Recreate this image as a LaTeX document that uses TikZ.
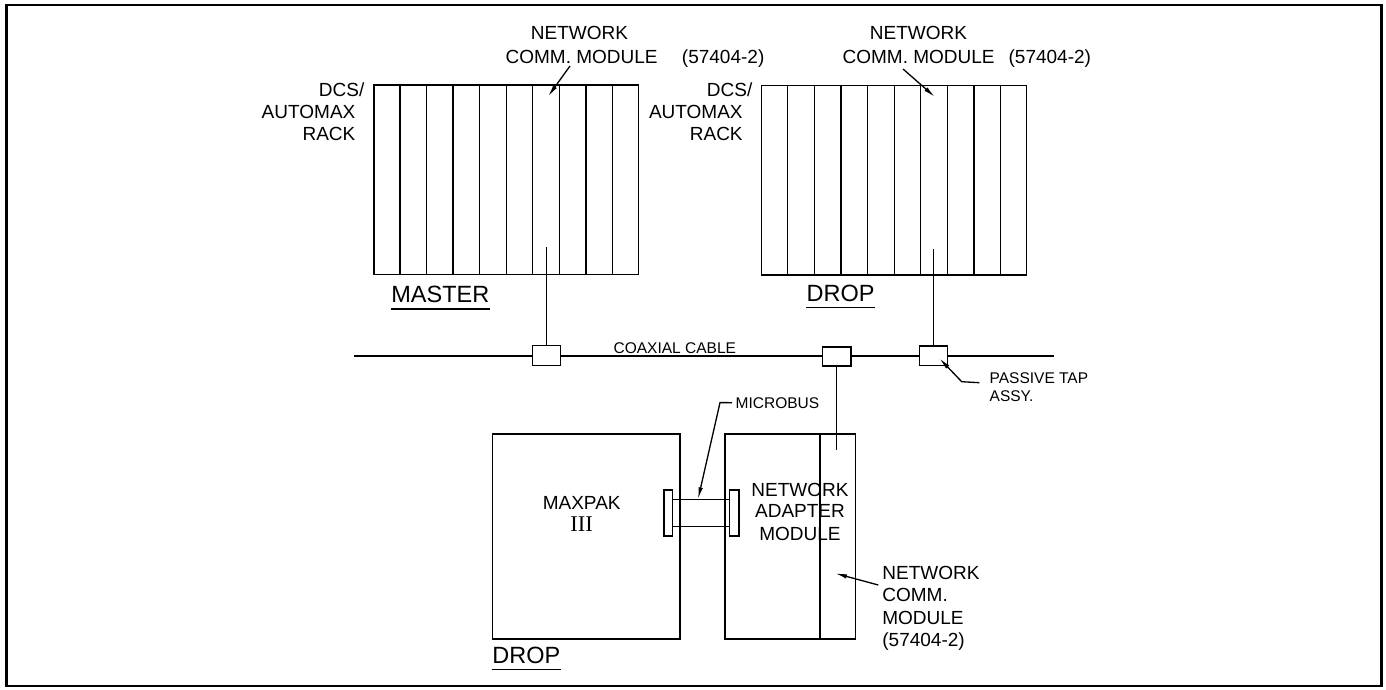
\documentclass[tikz,border=0pt]{standalone}
\usepackage{fontspec}
\setmainfont{Liberation Sans}
\newfontfamily\romanfont{Liberation Serif}
\usetikzlibrary{arrows.meta,calc}
\begin{document}
\begin{tikzpicture}[x=1pt,y=-1pt,line width=1.3pt,
  box/.style={draw, fill=white, inner sep=0pt, line width=1.3pt},
  lbl/.style={inner sep=0pt, font=\fontsize{19}{19}\selectfont},
  big/.style={inner sep=0pt, font=\fontsize{23.5}{23.5}\selectfont},
  small/.style={inner sep=0pt, font=\fontsize{15.5}{15.5}\selectfont},
  ptr/.style={-{Latex[length=12pt,width=4.5pt]}, line width=1.3pt},
]
\useasboundingbox (0,0) rectangle (1386,690);
\draw[line width=2.5pt] (6.5,5) rectangle (1381.5,686);

% racks
\node[box, minimum width=264.5, minimum height=189.5] (mrack) at (506.2,179.7) {};
\node[box, minimum width=265, minimum height=189.7] (drack) at (894.2,180.2) {};
\foreach \r in {mrack,drack}{
  \foreach \i in {1,...,9}{
    \draw ($(\r.north west)!\i/10!(\r.north east)$) -- ($(\r.south west)!\i/10!(\r.south east)$);
  }
}

% coax
\coordinate (coaxL) at (354,356);
\coordinate (coaxR) at (1054,356);
\draw (coaxL) -- (coaxR);
\node[box, minimum width=28, minimum height=20.5] (mtap) at (546.7,355.5) {};
\node[box, minimum width=28.3, minimum height=19] (ctap) at (836.8,356.6) {};
\node[box, minimum width=28, minimum height=19.7] (dtap) at (933.3,355.9) {};
\coordinate (mslot) at (546.7,247);
\coordinate (dslot) at (933.3,249.3);
\draw (mslot) -- (mtap.north);
\draw (dslot) -- (dtap.north);

% bottom units
\node[box, minimum width=187.3, minimum height=205] (maxpak) at (586.3,536.5) {};
\node[box, minimum width=130.7, minimum height=205] (nam) at (790.3,536.5) {};
\coordinate (namIn) at (836.8,450);
\draw (ctap.south) -- (namIn);
\draw ($(nam.north west)+(95.7,0)$) -- ($(nam.south west)+(95.7,0)$);
\node[box, minimum width=8.5, minimum height=46] (fl) at (668.2,513) {};
\node[box, minimum width=9.5, minimum height=46] (fr) at (734.2,513) {};
\draw ($(fl.east)+(0,-13.7)$) -- ($(fr.west)+(0,-13.7)$);
\draw ($(fl.east)+(0,13.7)$) -- ($(fr.west)+(0,13.7)$);

% top labels
\node[lbl, anchor=base] (mnet) at (579.5,40) {NETWORK};
\node[lbl, anchor=base west] (mcomm) at (505,64) {COMM. MODULE};
\node[lbl, anchor=base east] (mpn) at (765,64) {(57404-2)};
\node[lbl, anchor=base] (dnet) at (918.5,40) {NETWORK};
\node[lbl, anchor=base west] (dcomm) at (842,64) {COMM. MODULE};
\node[lbl, anchor=base west] (dpn) at (1008,64) {(57404-2)};

\node[lbl, anchor=base east] (mdcs) at (365,97) {DCS/};
\node[lbl, anchor=base east] (mauto) at (356,118) {AUTOMAX};
\node[lbl, anchor=base east] (mracklbl) at (356,140) {RACK};
\node[lbl, anchor=base east] (ddcs) at (753,97) {DCS/};
\node[lbl, anchor=base east] (dauto) at (743.3,118) {AUTOMAX};
\node[lbl, anchor=base east] (dracklbl) at (743.3,140) {RACK};

\node[big, anchor=base west] (masterlbl) at (390.7,302.7) {MASTER};
\draw ($(masterlbl.south west)+(0,5.5)$) -- ($(masterlbl.south east)+(0,5.5)$);
\node[big, anchor=base west] (droplbl) at (806,301.7) {DROP};
\draw ($(droplbl.south west)+(0,5)$) -- ($(droplbl.south east)+(0,5)$);
\node[big, anchor=base west] (bdroplbl) at (491.7,663) {DROP};
\draw ($(bdroplbl.south west)+(0,5.5)$) -- ($(bdroplbl.south east)+(0,5.5)$);

\node[small, anchor=base west] (coaxlbl) at (613,353.3) {COAXIAL CABLE};
\node[small, anchor=base west] (ptlbl) at (989,383.3) {PASSIVE TAP};
\node[small, anchor=base west] (assylbl) at (989,401.7) {ASSY.};
\node[small, anchor=base west, inner xsep=3pt] (mblbl) at (732,408) {MICROBUS};

\node[lbl, anchor=base] (mxlbl) at (581.7,509) {MAXPAK};
\node[lbl, anchor=base, font=\romanfont\fontsize{22.5}{22.5}\selectfont] (mx3) at (581.7,531.7) {III};
\node[lbl, anchor=base] (nalbl1) at (800,496) {NETWORK};
\node[lbl, anchor=base] (nalbl2) at (800,517) {ADAPTER};
\node[lbl, anchor=base] (nalbl3) at (800,540.7) {MODULE};

\node[lbl, anchor=base west] (bc1) at (881.7,579) {NETWORK};
\node[lbl, anchor=base west] (bc2) at (881.7,601.7) {COMM.};
\node[lbl, anchor=base west] (bc3) at (881.7,624) {MODULE};
\node[lbl, anchor=base west] (bc4) at (881.7,646.7) {(57404-2)};

% pointers
\coordinate (mArrS) at (570,66);
\coordinate (mArrT) at (548,96.5);
\draw[ptr] (mArrS) -- (mArrT);
\coordinate (dArrS) at (903,69);
\coordinate (dArrT) at (935,97);
\draw[ptr] (dArrS) -- (dArrT);
\coordinate (bArrS) at (878.3,585);
\coordinate (bArrT) at (835,573.3);
\draw[ptr] (bArrS) -- (bArrT);
\coordinate (mbBend) at (720,402.6);
\coordinate (mbTip) at (698,499.3);
\draw[ptr] (mblbl.west) -- (mbBend) -- (mbTip);
\coordinate (ptLead) at (979.3,382.7);
\coordinate (ptBend) at (961.7,381.7);
\coordinate (ptTip) at (939.3,358.3);
\draw[ptr] (ptLead) -- (ptBend) -- (ptTip);
\end{tikzpicture}
\end{document}
